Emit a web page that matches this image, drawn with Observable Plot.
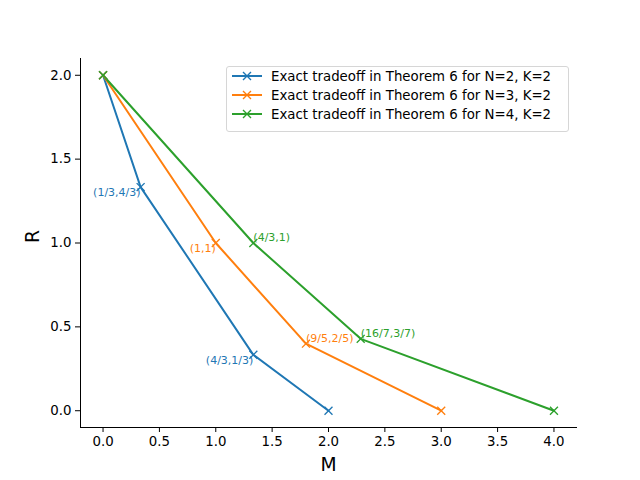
<!DOCTYPE html>
<html>
<head>
<meta charset="utf-8">
<script src="https://cdn.jsdelivr.net/npm/d3@7"></script>
<script src="https://cdn.jsdelivr.net/npm/@observablehq/plot@0.6"></script>
<style>
  body { margin: 0; background: #fff; font-family: "DejaVu Sans", sans-serif; }
  #wrap { position: relative; width: 640px; height: 480px; }
  #legend {
    position: absolute; left: 226px; top: 66px; width: 341px; height: 64px;
    border: 1px solid #d6d6d6; border-radius: 3px; background: rgba(255,255,255,0.8);
    font-family: "DejaVu Sans", sans-serif; font-size: 13.33px; color: #000;
  }
  .entry { position: absolute; left: 0; height: 19px; display: flex; align-items: center; }
  .entry svg { margin-left: 5px; margin-right: 9px; }
</style>
</head>
<body>
<div id="wrap"></div>
<script>
// Series names and colours
const seriesNames = [
  "Exact tradeoff in Theorem 6 for N=2, K=2",
  "Exact tradeoff in Theorem 6 for N=3, K=2",
  "Exact tradeoff in Theorem 6 for N=4, K=2"
];
const seriesColors = ["#1f77b4", "#ff7f0e", "#2ca02c"];

// Corner points (M, R)
const mN2 = [0, 1/3, 4/3, 2];
const rN2 = [2, 4/3, 1/3, 0];
const mN3 = [0, 1, 9/5, 3];
const rN3 = [2, 1, 2/5, 0];
const mN4 = [0, 4/3, 16/7, 4];
const rN4 = [2, 1, 3/7, 0];

// Annotations
const annSeries = [0, 0, 1, 1, 2, 2];
const annM = [1/3, 4/3, 1, 9/5, 4/3, 16/7];
const annR = [4/3, 1/3, 1, 2/5, 1, 3/7];
const annText = ["(1/3,4/3)", "(4/3,1/3)", "(1,1)", "(9/5,2/5)", "(4/3,1)", "(16/7,3/7)"];
const annSide = ["below-left", "below-left", "below-left", "above-right", "above-right", "above-right"];

const xTicks = [0, 0.5, 1, 1.5, 2, 2.5, 3, 3.5, 4];
const yTicks = [0, 0.5, 1, 1.5, 2];

const ms = [mN2, mN3, mN4], rs = [rN2, rN3, rN4];
const points = [];
ms.forEach((m, s) => m.forEach((v, i) => points.push({series: seriesNames[s], M: v, R: rs[s][i]})));
const anns = annText.map((t, i) => ({series: seriesNames[annSeries[i]], M: annM[i], R: annR[i], text: t, side: annSide[i]}));

const plot = Plot.plot({
  width: 640,
  height: 480,
  marginLeft: 80,
  marginRight: 64,
  marginTop: 58,
  marginBottom: 53,
  style: {fontFamily: "DejaVu Sans", fontSize: "13.33px", background: "#fff", color: "#000"},
  x: {domain: [-0.2, 4.2], label: null},
  y: {domain: [-0.1, 2.1], label: null},
  color: {domain: seriesNames, range: seriesColors},
  marks: [
    Plot.frame({anchor: "left", stroke: "#000", strokeWidth: 1}),
    Plot.frame({anchor: "bottom", stroke: "#000", strokeWidth: 1}),
    Plot.axisX({ticks: xTicks, tickFormat: d3.format(".1f"), tickSize: 5, tickPadding: 4, fontSize: 13.33, label: null}),
    Plot.axisY({ticks: yTicks, tickFormat: d3.format(".1f"), tickSize: 5, tickPadding: 4, fontSize: 13.33, label: null}),
    Plot.line(points, {x: "M", y: "R", z: "series", stroke: "series", strokeWidth: 2}),
    Plot.dot(points, {x: "M", y: "R", stroke: "series", symbol: "times", r: 3.7, strokeWidth: 1.33}),
    Plot.text(anns.filter(d => d.side === "below-left"), {x: "M", y: "R", text: "text", fill: "series", textAnchor: "end", lineAnchor: "top", dy: 1, fontSize: 11}),
    Plot.text(anns.filter(d => d.side === "above-right"), {x: "M", y: "R", text: "text", fill: "series", textAnchor: "start", lineAnchor: "bottom", dy: -2, fontSize: 11}),
    Plot.text(["M"], {frameAnchor: "bottom", dy: 38, fontSize: 18.67, lineAnchor: "middle"}),
    Plot.text(["R"], {frameAnchor: "left", dx: -47, rotate: -90, fontSize: 18.67, lineAnchor: "middle"})
  ]
});
const wrap = document.getElementById("wrap");
wrap.appendChild(plot);

// Legend
const legend = document.createElement("div");
legend.id = "legend";
seriesNames.forEach((name, i) => {
  const e = document.createElement("div");
  e.className = "entry";
  e.style.top = (-0.5 + i * 19) + "px";
  const c = seriesColors[i];
  e.innerHTML = `<svg width="30" height="12" viewBox="0 0 30 12"><line x1="0" y1="6" x2="30" y2="6" stroke="${c}" stroke-width="2"/>` +
    `<path d="M11,2L19,10M19,2L11,10" stroke="${c}" stroke-width="1.33"/></svg><span>${name}</span>`;
  legend.appendChild(e);
});
wrap.appendChild(legend);
</script>
</body>
</html>
